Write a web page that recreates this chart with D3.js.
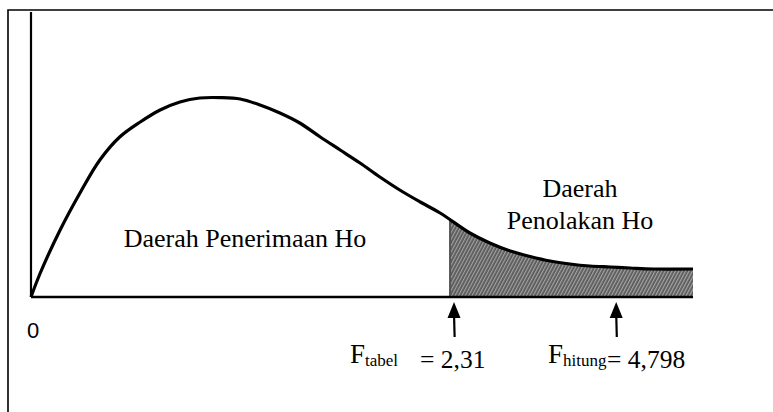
<!DOCTYPE html>
<html>
<head>
<meta charset="utf-8">
<script src="https://cdn.jsdelivr.net/npm/d3@7"></script>
<style>
  body { margin: 0; background: #fff; }
  svg { display: block; }
</style>
</head>
<body>
<div id="chart"></div>
<script>
// curve (x in 0..100 along the axis, y as relative density)
var curveX = [0, 1.4, 4.4, 7.4, 10.4, 13.4, 16.5, 19.5, 22.5, 25.5, 28.6, 31.6, 34.6, 37.6,
  40.6, 43.7, 46.7, 49.7, 52.7, 55.7, 58.8, 61.8, 66.3, 69.3, 72.4, 75.4, 78.4,
  81.4, 84.4, 87.5, 90.5, 94.0, 100];
var curveY = [0, 0.12, 0.335, 0.52, 0.685, 0.80, 0.875, 0.935, 0.975, 0.995, 0.997, 0.99, 0.96, 0.92,
  0.87, 0.80, 0.735, 0.67, 0.60, 0.535, 0.475, 0.42, 0.32, 0.27, 0.23, 0.2025, 0.18,
  0.165, 0.155, 0.15, 0.145, 0.14, 0.14];

var rejectStart = 63.3;          // F tabel boundary
var arrowX = [63.9, 88.4];       // F tabel, F hitung
var fNames = ['tabel', 'hitung'];
var fValues = ['= 2,31', '= 4,798'];
var tickLabels = ['0'];

var serif = '"Liberation Serif", "Times New Roman", Times, serif';
var sans = '"Liberation Sans", Arial, Helvetica, sans-serif';

var w = 773, h = 412;

var svg = d3.select('#chart').append('svg')
  .attr('width', w)
  .attr('height', h);

var x = d3.scaleLinear().domain([0, 100]).range([31, 693]);
var y = d3.scaleLinear().domain([0, 1]).range([297, 97]);

var data = curveX.map(function (d, i) { return { x: d, y: curveY[i] }; });
var smooth = d3.curveCatmullRom.alpha(0.5);

// hatch pattern for the rejection area
var defs = svg.append('defs');
var pat = defs.append('pattern')
  .attr('id', 'hatch')
  .attr('patternUnits', 'userSpaceOnUse')
  .attr('width', 3)
  .attr('height', 8)
  .attr('patternTransform', 'rotate(28)');
pat.append('rect').attr('width', 3).attr('height', 8).attr('fill', '#5a5a5a');
pat.append('line')
  .attr('x1', 0.7).attr('y1', 0).attr('x2', 0.7).attr('y2', 8)
  .attr('stroke', '#b8b8b8').attr('stroke-width', 1);

// darker band along the left edge of the shading
var grad = defs.append('linearGradient')
  .attr('id', 'shadeLeft')
  .attr('x1', '0%').attr('x2', '100%');
grad.append('stop').attr('offset', '0%').attr('stop-color', '#333').attr('stop-opacity', 0.75);
grad.append('stop').attr('offset', '20%').attr('stop-color', '#333').attr('stop-opacity', 0.12);
grad.append('stop').attr('offset', '100%').attr('stop-color', '#333').attr('stop-opacity', 0);

defs.append('clipPath').attr('id', 'tailClip')
  .append('rect')
  .attr('x', x(rejectStart)).attr('y', 0)
  .attr('width', x(100) - x(rejectStart)).attr('height', h);

var area = d3.area()
  .x(function (d) { return x(d.x); })
  .y0(y(0))
  .y1(function (d) { return y(d.y); })
  .curve(smooth);

var shade = svg.append('g').attr('clip-path', 'url(#tailClip)');
shade.append('path').datum(data).attr('d', area).attr('fill', 'url(#hatch)');
shade.append('path').datum(data).attr('d', area).attr('fill', 'url(#shadeLeft)');

svg.append('line')
  .attr('x1', x(rejectStart)).attr('x2', x(rejectStart))
  .attr('y1', y(0)).attr('y2', y(0.385))
  .attr('stroke', '#555').attr('stroke-width', 2);

// frame (top and left only, the rest is cut off)
svg.append('path')
  .attr('d', 'M8,' + h + 'V10H' + w)
  .attr('fill', 'none')
  .attr('stroke', '#000')
  .attr('stroke-width', 1.6);

// axes
svg.append('line')
  .attr('x1', x(0)).attr('x2', x(0))
  .attr('y1', y(0)).attr('y2', y(1.425))
  .attr('stroke', '#000').attr('stroke-width', 2.2);
svg.append('line')
  .attr('x1', x(0)).attr('x2', x(100))
  .attr('y1', y(0)).attr('y2', y(0))
  .attr('stroke', '#000').attr('stroke-width', 2.6);

// the curve
var line = d3.line()
  .x(function (d) { return x(d.x); })
  .y(function (d) { return y(d.y); })
  .curve(smooth);

svg.append('path').datum(data)
  .attr('d', line)
  .attr('fill', 'none')
  .attr('stroke', '#000')
  .attr('stroke-width', 3.2)
  .attr('stroke-linejoin', 'round');

// tick label
svg.selectAll('.tick-label').data(tickLabels).enter().append('text')
  .attr('class', 'tick-label')
  .attr('x', x(0) + 2)
  .attr('y', 338)
  .attr('text-anchor', 'middle')
  .attr('font-family', sans)
  .attr('font-size', 22)
  .text(function (d) { return d; });

// region labels
function label(txt, cx, cy) {
  svg.append('text')
    .attr('x', cx).attr('y', cy)
    .attr('text-anchor', 'middle')
    .attr('font-family', serif)
    .attr('font-size', 26)
    .text(txt);
}
label('Daerah Penerimaan Ho', 245, 247);
label('Daerah', 580, 197);
label('Penolakan Ho', 580, 229);

// arrows
var arrows = svg.selectAll('.arrow').data(arrowX).enter().append('g')
  .attr('class', 'arrow')
  .attr('transform', function (d) { return 'translate(' + x(d) + ',0)'; });

arrows.append('line')
  .attr('x1', 0).attr('x2', 0.6)
  .attr('y1', 314).attr('y2', 337)
  .attr('stroke', '#000').attr('stroke-width', 2.2);
arrows.append('path')
  .attr('d', 'M0,302L6.5,318L-6.5,318Z')
  .attr('fill', '#000');

// F labels
var labelX = [350, 548];
var valueX = [420, 607];
var lab = svg.selectAll('.flabel').data(fNames).enter().append('g')
  .attr('class', 'flabel');

lab.append('text')
  .attr('x', function (d, i) { return labelX[i]; })
  .attr('y', 363)
  .attr('font-family', serif)
  .attr('font-size', 27)
  .text('F')
  .append('tspan')
  .attr('dy', 3)
  .attr('font-size', 17)
  .text(function (d) { return d; });

lab.append('text')
  .attr('x', function (d, i) { return valueX[i]; })
  .attr('y', 368)
  .attr('font-family', serif)
  .attr('font-size', 25.5)
  .text(function (d, i) { return fValues[i]; });
</script>
</body>
</html>
